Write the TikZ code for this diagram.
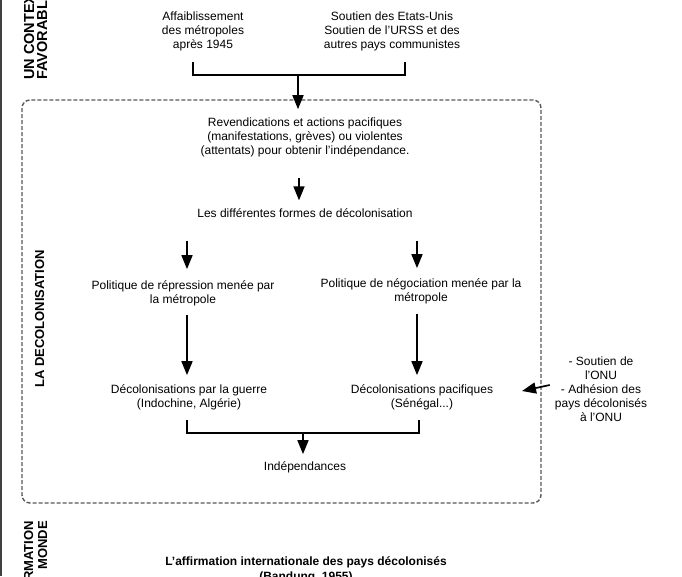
\documentclass[tikz,border=0pt]{standalone}
\usepackage{fontspec}
\setmainfont{Liberation Sans}
\usetikzlibrary{calc,arrows.meta}

\tikzset{
	txt/.style={inner sep=0pt, align=center, font=\fontsize{12}{14}\selectfont},
	ttl/.style={inner sep=0pt, rotate=90, font=\fontsize{13}{14}\selectfont\bfseries},
	arrow/.style={line width=1.7pt, -{Triangle[length=14pt,width=11pt]}},
	bracket/.style={line width=1.8pt},
	dashframe/.style={draw=black!65, line width=1.4pt, dash pattern=on 4pt off 2pt, rounded corners=8pt}
}

\begin{document}
\begin{tikzpicture}[x=1pt,y=-1pt]
	\useasboundingbox (0,0) rectangle (682,576);
	\fill[white] (0,0) rectangle (682,576);
	\clip (0,0) rectangle (682,576);

	\coordinate (colLeft) at (187,0);
	\coordinate (colRight) at (417,0);
	\coordinate (colMid) at (299,0);

	% left margin and side titles
	\draw[black!75, line width=1.5pt] (1,0) -- (1,576);
	\node[ttl, anchor=base west, align=left, font=\fontsize{14.5}{13}\selectfont\bfseries] (ctx) at (47,80) {UN CONTEXTE\\FAVORABLE};
	\node[ttl, anchor=base] (deco) at (44,319) {LA DECOLONISATION};
	\node[ttl, anchor=base east, align=right] (world) at (47,521) {L'AFFIRMATION\\MONDE};

	% causes
	\node[txt] (weak) at (203,31) {Affaiblissement\\des métropoles\\après 1945};
	\node[txt] (support) at (392,31) {Soutien des Etats-Unis\\Soutien de l'URSS et des\\autres pays communistes};
	\coordinate (weakFoot) at (193,62);
	\coordinate (supportFoot) at (405,62);
	\coordinate (topJoin) at (298,75);
	\draw[bracket] (weakFoot) |- (topJoin) -| (supportFoot);

	% decolonisation frame
	\draw[dashframe] (22,100) rectangle (541,503);

	\node[txt] (revend) at (305,137) {Revendications et actions pacifiques\\(manifestations, grèves) ou violentes\\(attentats) pour obtenir l'indépendance.};
	\node[txt] (formes) at (305,213) {Les différentes formes de décolonisation};
	\node[txt] (repress) at (183,293) {Politique de répression menée par\\la métropole};
	\node[txt] (negoc) at (421,291) {Politique de négociation menée par la\\métropole};
	\node[txt] (guerre) at (189,397) {Décolonisations par la guerre\\(Indochine, Algérie)};
	\node[txt] (pacif) at (422,397) {Décolonisations pacifiques\\(Sénégal...)};
	\node[txt] (indep) at (305,467) {Indépendances};
	\node[txt] (onu) at (601,389) {- Soutien de\\l'ONU\\- Adhésion des\\pays décolonisés\\à l'ONU};

	\draw[arrow, shorten >=8pt] (topJoin) -- (topJoin |- revend.north);
	\draw[arrow, shorten <=21pt, shorten >=8pt] (revend.south -| colMid) -- (formes.north -| colMid);
	\draw[arrow, shorten <=23pt, shorten >=11pt] (formes.south -| colLeft) -- (repress.north -| colLeft);
	\draw[arrow, shorten <=23pt, shorten >=10pt] (formes.south -| colRight) -- (negoc.north -| colRight);
	\draw[arrow, shorten <=9pt, shorten >=9pt] (repress.south -| colLeft) -- (guerre.north -| colLeft);
	\draw[arrow, shorten <=10pt, shorten >=9pt] (negoc.south -| colRight) -- (pacif.north -| colRight);

	% merging into independence
	\coordinate (warFoot) at (187,420);
	\coordinate (peaceFoot) at (419,420);
	\coordinate (botJoin) at (303,433);
	\draw[bracket] (warFoot) |- (botJoin) -| (peaceFoot);
	\draw[arrow, shorten >=7pt] (botJoin) -- (botJoin |- indep.north);

	\coordinate (onuTip) at (522,391);
	\draw[arrow] ($(onu.west)+(-5,-4)$) -- (onuTip);

	% outcome
	\node[txt, anchor=north, font=\fontsize{12}{15}\selectfont\bfseries] (affirm) at (306,556) {L'affirmation internationale des pays décolonisés\\(Bandung, 1955)};
\end{tikzpicture}
\end{document}
